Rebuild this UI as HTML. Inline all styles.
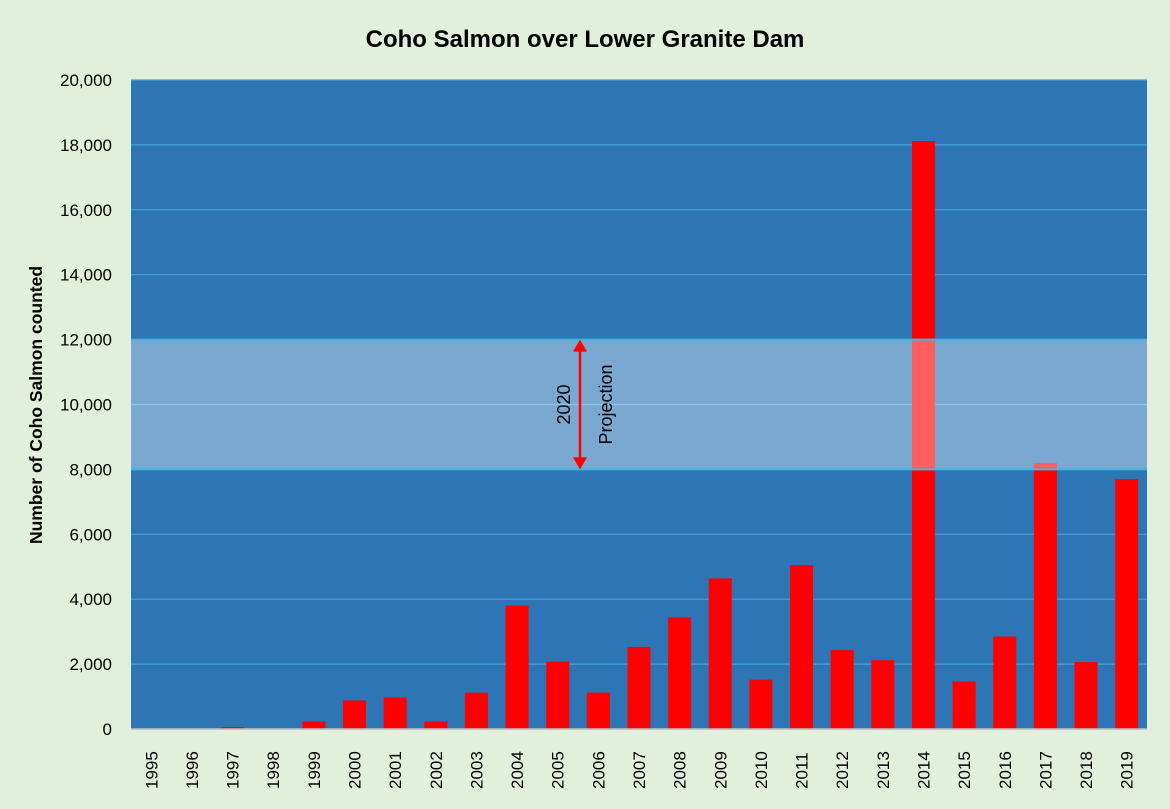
<!DOCTYPE html>
<html><head><meta charset="utf-8"><style>
body{margin:0;background:#e2efda;}
svg{display:block;font-family:"Liberation Sans",sans-serif;}
</style></head><body>
<svg id="c" width="1170" height="809">
<rect width="1170" height="809" fill="#e2efda"/>
<text x="585" y="47" text-anchor="middle" font-size="24" font-weight="bold" fill="#000">Coho Salmon over Lower Granite Dam</text>
<text transform="translate(42,405) rotate(-90)" text-anchor="middle" font-size="17.5" font-weight="bold" fill="#000">Number of Coho Salmon counted</text>
<g id="plot"></g>
</svg>
<script>
const categories=["1995","1996","1997","1998","1999","2000","2001","2002","2003","2004","2005","2006","2007","2008","2009","2010","2011","2012","2013","2014","2015","2016","2017","2018","2019"];
const counts=[0,0,60,0,230,880,970,230,1120,3800,2080,1120,2530,3440,4640,1520,5050,2430,2120,18120,1460,2850,8200,2060,7700];
const yTicks=[0,2000,4000,6000,8000,10000,12000,14000,16000,18000,20000];
const projection=[8000,12000];
const L=131,R=1147,T=80,B=729,yMax=20000;
const ns="http://www.w3.org/2000/svg";
const g=document.getElementById('plot');
const y=v=>B-(v/yMax)*(B-T);
const cw=(R-L)/categories.length;
const x=i=>L+cw*(i+0.5);
function mk(t,a,p){const e=document.createElementNS(ns,t);for(const k in a)e.setAttribute(k,a[k]);(p||g).appendChild(e);return e;}
let e=mk('rect',{x:L,y:T,width:R-L,height:B-T,fill:'#2e75b6'});


yTicks.forEach(v=>{
 let l=mk('line',{x1:L,x2:R,y1:y(v),y2:y(v),stroke:'#41a5d8','stroke-width':1.2});
 
 
 let t=mk('text',{x:112,y:y(v)+6,'text-anchor':'end','font-size':17,fill:'#000'});
 t.textContent=v.toLocaleString('en-US');
 
 
});
counts.forEach((v,i)=>{
 let r=mk('rect',{x:x(i)-11.5,y:y(v),width:23,height:B-y(v),fill:'#ff0000'});
 
 
 let t=mk('text',{transform:`translate(${x(i)+6},${B+60}) rotate(-90)`,'font-size':17,fill:'#000'});
 t.textContent=categories[i];
 
 
});
let ax=mk('line',{x1:L,x2:R,y1:B,y2:B,stroke:'#bfbfbf','stroke-width':1.5});


let band=mk('rect',{x:L,y:y(projection[1]),width:R-L,height:y(projection[0])-y(projection[1]),fill:'#ffffff','fill-opacity':0.37});


[projection[0],projection[1]].forEach(v=>{let l=mk('line',{x1:L,x2:R,y1:y(v),y2:y(v),stroke:'#41b5e0','stroke-width':2});
 
 });
const ay1=y(projection[1]),ay2=y(projection[0]);
let arr=mk('g',{});


mk('line',{x1:580,x2:580,y1:ay1+8,y2:ay2-8,stroke:'#ff0000','stroke-width':2.5},arr);
mk('polygon',{points:`580,${ay1} 573,${ay1+12} 587,${ay1+12}`,fill:'#ff0000'},arr);
mk('polygon',{points:`580,${ay2} 573,${ay2-12} 587,${ay2-12}`,fill:'#ff0000'},arr);
let t1=mk('text',{transform:`translate(570,${(ay1+ay2)/2}) rotate(-90)`,'text-anchor':'middle','font-size':18,fill:'#000'});
t1.textContent='2020';


let t2=mk('text',{transform:`translate(612,${(ay1+ay2)/2}) rotate(-90)`,'text-anchor':'middle','font-size':18,fill:'#000'});
t2.textContent='Projection';


</script>
</body></html>
